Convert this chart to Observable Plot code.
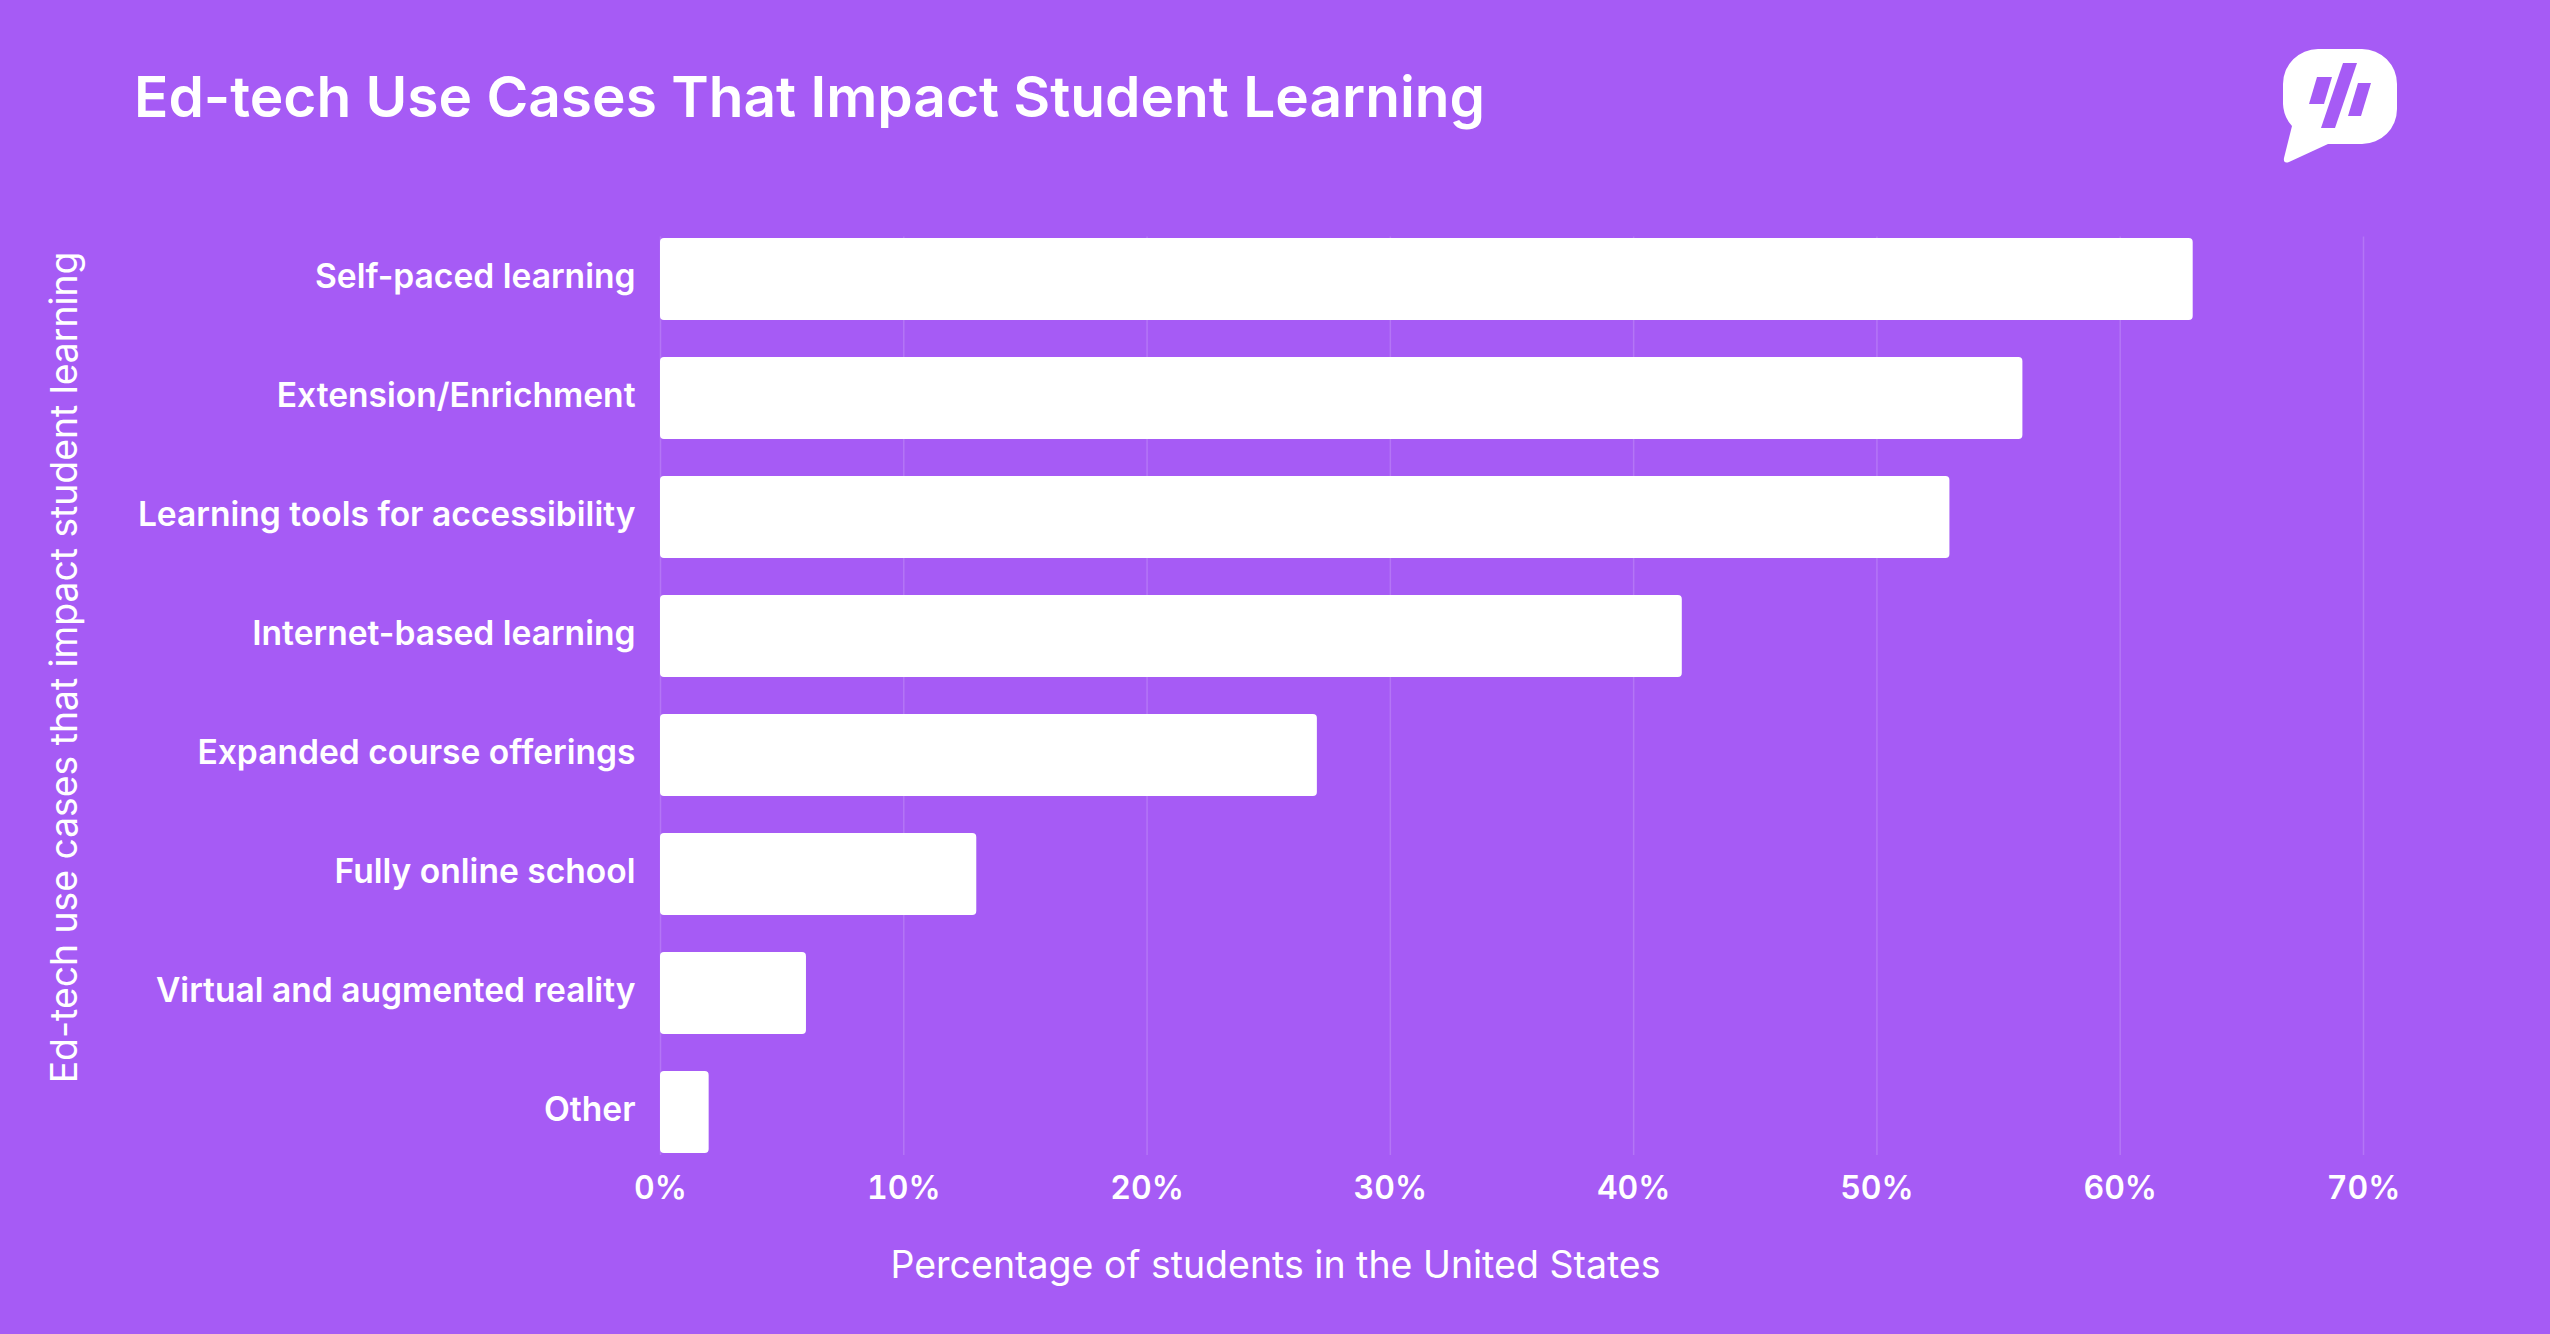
<!DOCTYPE html>
<html>
<head>
<meta charset="utf-8">
<script src="https://cdn.jsdelivr.net/npm/d3@7"></script>
<script src="https://cdn.jsdelivr.net/npm/@observablehq/plot@0.6"></script>
<style>
  html, body { margin: 0; padding: 0; background: #a65bf5; }
  #page { position: relative; width: 2550px; height: 1334px; background: #a65bf5; overflow: hidden; font-family: Inter, "Noto Sans", sans-serif; color: #fff; }
  #header { position: relative; height: 180px; }
  #title { position: absolute; left: 134px; top: 69px; font-size: 56.8px; line-height: 1; font-weight: 600; color: #fff; white-space: nowrap; }
  #logo { position: absolute; left: 0; top: 0; }
  #chart svg { display: block; }
</style>
</head>
<body>
<div id="page">
  <div id="header">
    <div id="title">Ed-tech Use Cases That Impact Student Learning</div>
    <svg id="logo" width="2550" height="180" viewBox="0 0 2550 180">
      <path fill="#fff" d="M2318,49 H2362 A35,35 0 0 1 2397,84 V109 A35,35 0 0 1 2362,144 H2328 L2289,162 Q2283,164 2284,158 L2292,126 A35,35 0 0 1 2283,104 V84 A35,35 0 0 1 2318,49 Z"/>
      <path fill="#a65bf5" d="M2317,77 L2332,77 L2324,104 L2309,104 Z"/>
      <path fill="#a65bf5" d="M2343,63 L2357,63 L2335,128 L2321,128 Z"/>
      <path fill="#a65bf5" d="M2358,83 L2371,83 L2361,116 L2348,116 Z"/>
    </svg>
  </div>
  <div id="chart"></div>
</div>
<script>
const categories = [
  "Self-paced learning",
  "Extension/Enrichment",
  "Learning tools for accessibility",
  "Internet-based learning",
  "Expanded course offerings",
  "Fully online school",
  "Virtual and augmented reality",
  "Other"
];
const values = [63, 56, 53, 42, 27, 13, 6, 2];
const xTicks = [0, 10, 20, 30, 40, 50, 60, 70];
const xLabel = "Percentage of students in the United States";
const yLabel = "Ed-tech use cases that impact student learning";

const data = categories.map((c, i) => ({category: c, value: values[i]}));

const W = 2550, H = 1154;
const mTop = 56.5, mBottom = 179, mLeft = 660, mRight = 187;
const frameCenterX = mLeft + (W - mLeft - mRight) / 2;
const frameCenterY = mTop + (H - mTop - mBottom) / 2;

const chart = Plot.plot({
  width: W,
  height: H,
  marginTop: mTop,
  marginBottom: mBottom,
  marginLeft: mLeft,
  marginRight: mRight,
  style: {background: "transparent", color: "#fff", fontFamily: "Inter, 'Noto Sans', sans-serif", overflow: "visible"},
  x: {domain: [0, 70], ticks: xTicks, tickFormat: d => d + "%", label: null},
  y: {domain: categories, paddingInner: 0.314, paddingOuter: 0, label: null},
  marks: [
    Plot.gridX(xTicks, {stroke: "#fff", strokeOpacity: 0.16, strokeWidth: 1.5}),
    Plot.barX(data, {x: "value", y: "category", fill: "#fff", rx: 4}),
    Plot.axisX({ticks: xTicks, tickFormat: d => d + "%", tickSize: 0, tickPadding: 21, fontSize: 32, fontWeight: 600, label: null, fill: "#fff"}),
    Plot.axisY({tickSize: 0, tickPadding: 25, fontSize: 33.6, fontWeight: 600, label: null, fill: "#fff", dy: -2}),
    Plot.text([xLabel], {frameAnchor: "bottom", text: d => d, dx: 1275 - frameCenterX, dy: 110, lineAnchor: "middle", textAnchor: "middle", fontSize: 37.5, fontWeight: 400, fill: "#fff"}),
    Plot.text([yLabel], {frameAnchor: "left", text: d => d, rotate: -90, dx: 65 - mLeft, dy: 487 - frameCenterY, lineAnchor: "middle", textAnchor: "middle", fontSize: 37.3, fontWeight: 400, fill: "#fff"})
  ]
});
document.getElementById("chart").appendChild(chart);
</script>
</body>
</html>
